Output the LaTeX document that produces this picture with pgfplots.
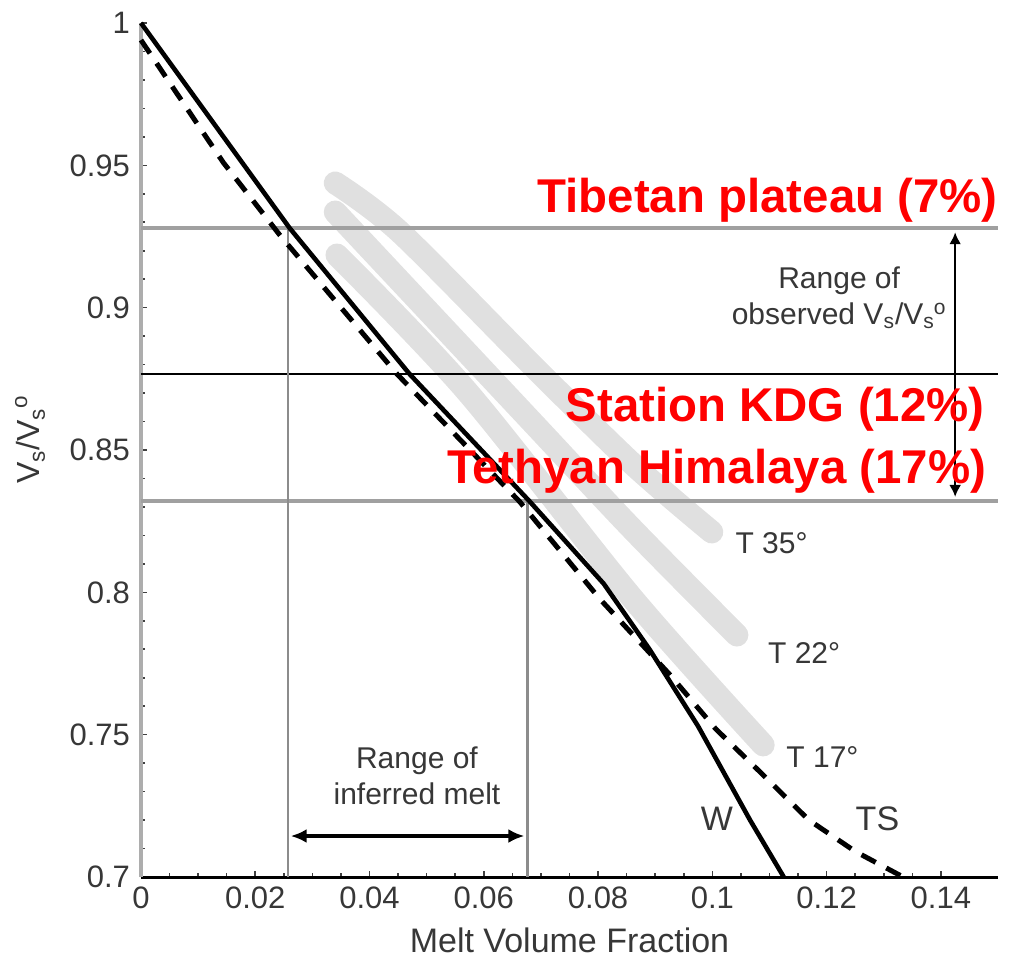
\documentclass[border=0pt]{standalone}
\usepackage{fontspec}
\setmainfont{Liberation Sans}
\usepackage{pgfplots}
\pgfplotsset{compat=1.18}
\usetikzlibrary{arrows.meta}

\definecolor{bandgray}{RGB}{224,224,224}
\definecolor{refgray}{RGB}{160,160,160}
\definecolor{vgray}{RGB}{140,140,140}
\definecolor{labgray}{RGB}{55,55,55}
\definecolor{hot}{RGB}{255,0,0}

\begin{document}
\begin{tikzpicture}
\useasboundingbox (-70.5pt,-40.5pt) rectangle (437pt,438.5pt);
\begin{axis}[
  at={(0,0)}, anchor=south west,
  width=428.5pt, height=427pt, scale only axis,
  xmin=0, xmax=0.15, ymin=0.7, ymax=1,
  axis x line*=bottom, axis y line*=left,
  x axis line style={black, line width=1.5pt},
  y axis line style={black!32, line width=2pt},
  xtick={0,0.02,0.04,0.06,0.08,0.1,0.12,0.14},
  xticklabels={0,0.02,0.04,0.06,0.08,0.1,0.12,0.14},
  ytick={0.7,0.75,0.8,0.85,0.9,0.95,1},
  yticklabels={0.7,0.75,0.8,0.85,0.9,0.95,1},
  minor x tick num=3, minor y tick num=4,
  tick align=inside,
  major tick length=3pt, minor tick length=2.2pt,
  tick style={black!75, line width=0.8pt},
  tick label style={font=\fontsize{15.5}{18}\selectfont, text=labgray},
  xticklabel style={yshift=-1.5pt},
  yticklabel style={xshift=-2pt},
  xlabel={Melt Volume Fraction},
  xlabel style={at={(axis description cs:0.5,0)}, anchor=center, yshift=-31.5pt,
                font=\fontsize{17}{20}\selectfont, text=labgray},
  ylabel={V\textsubscript{s}/V\textsubscript{s}\kern-0.5pt\textsuperscript{o}},
  ylabel style={at={(axis description cs:-0.1295,0.512)}, anchor=center,
                font=\fontsize{16}{19}\selectfont, text=labgray},
  clip=false,
]

% temperature bands
\addplot[bandgray, line width=11.5pt, line cap=round, smooth] coordinates {
  (0.0340,0.9438) (0.0453,0.9266) (0.0686,0.8795) (0.0861,0.8450) (0.0999,0.8212)};
\addplot[bandgray, line width=11.5pt, line cap=round, smooth] coordinates {
  (0.0340,0.9336) (0.0453,0.9094) (0.0686,0.8595) (0.0861,0.8220) (0.1043,0.7850)};
\addplot[bandgray, line width=11.5pt, line cap=round, smooth] coordinates {
  (0.0343,0.9185) (0.0570,0.8707) (0.0861,0.7977) (0.1089,0.7464)};

% observed velocity levels
\addplot[refgray, line width=2pt] coordinates {(0,0.928) (0.15,0.928)};
\addplot[black, line width=1.4pt] coordinates {(0,0.8767) (0.15,0.8767)};
\addplot[refgray, line width=2pt] coordinates {(0,0.832) (0.15,0.832)};

% inferred melt bounds
\addplot[vgray, line width=1.3pt] coordinates {(0.0257,0.7) (0.0257,0.928)};
\addplot[vgray, line width=1.3pt] coordinates {(0.0676,0.7) (0.0676,0.832)};

% W model
\addplot[black, line width=2.3pt, line join=round] coordinates {
  (0,1) (0.026,0.928) (0.047,0.8767) (0.068,0.832) (0.081,0.803)
  (0.089,0.780) (0.0975,0.753) (0.1066,0.720) (0.1125,0.7)};

% TS model
\addplot[black, line width=2.5pt, dash pattern=on 8pt off 6pt] coordinates {
  (0,0.994) (0.0144,0.951) (0.0243,0.9255) (0.0448,0.8767) (0.0663,0.8318)
  (0.0803,0.7977) (0.0926,0.771) (0.1006,0.752) (0.1083,0.737)
  (0.1169,0.720) (0.125,0.709) (0.1334,0.7)};

% range arrows
\addplot[black, line width=2pt, {Latex[length=8pt,width=7pt]}-{Latex[length=8pt,width=7pt]}]
  coordinates {(0.0262,0.7144) (0.0671,0.7144)};
\addplot[black, line width=1.2pt, {Latex[length=6pt,width=6pt]}-{Latex[length=6pt,width=6pt]}]
  coordinates {(0.1425,0.8335) (0.1425,0.9265)};

% annotations
\node[align=center, font=\fontsize{15}{18}\selectfont, text=labgray]
  at (axis cs:0.1222,0.9034) {Range of\\observed V\textsubscript{s}/V\textsubscript{s}\kern-0.5pt\textsuperscript{o}};
\node[align=center, font=\fontsize{15}{18}\selectfont, text=labgray]
  at (axis cs:0.0483,0.7355) {Range of\\inferred melt};

\node[anchor=west, font=\fontsize{15}{18}\selectfont, text=labgray, inner sep=0pt]
  at (axis cs:0.104,0.8174) {T 35°};
\node[anchor=west, font=\fontsize{15}{18}\selectfont, text=labgray, inner sep=0pt]
  at (axis cs:0.1097,0.7787) {T 22°};
\node[anchor=west, font=\fontsize{15}{18}\selectfont, text=labgray, inner sep=0pt]
  at (axis cs:0.1129,0.7422) {T 17°};
\node[font=\fontsize{17}{20}\selectfont, text=labgray, inner sep=0pt]
  at (axis cs:0.1008,0.7204) {W};
\node[font=\fontsize{17}{20}\selectfont, text=labgray, inner sep=0pt]
  at (axis cs:0.1289,0.7204) {TS};

\node[anchor=base east, inner sep=0pt, text=hot, font=\fontsize{23.7}{28}\selectfont\bfseries]
  at (axis cs:0.15,0.9336) {Tibetan plateau (7\%)};
\node[anchor=base east, inner sep=0pt, text=hot, font=\fontsize{23.7}{28}\selectfont\bfseries]
  at (axis cs:0.1477,0.8599) {Station KDG (12\%)};
\node[anchor=base east, inner sep=0pt, text=hot, font=\fontsize{23.7}{28}\selectfont\bfseries]
  at (axis cs:0.148,0.8384) {Tethyan Himalaya (17\%)};
\end{axis}
\end{tikzpicture}
\end{document}
